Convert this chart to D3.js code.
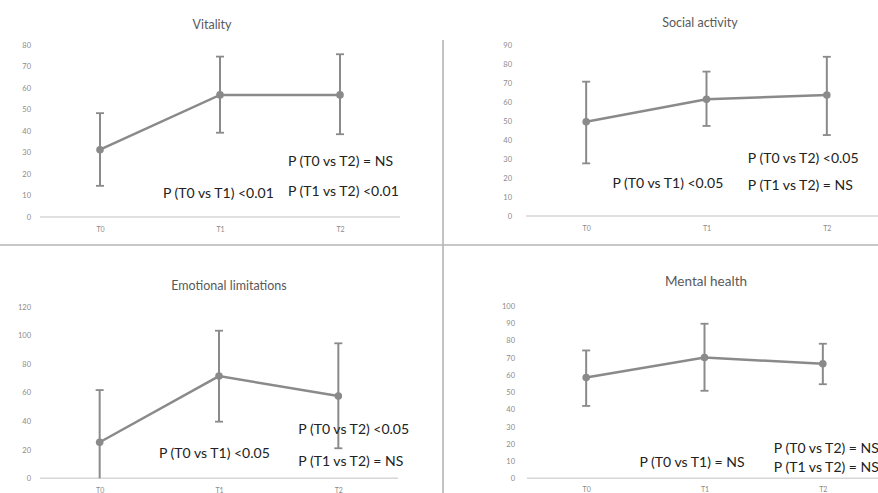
<!DOCTYPE html>
<html><head><meta charset="utf-8">
<script src="https://cdn.jsdelivr.net/npm/d3@7"></script>
<style>body{margin:0;background:#fff}svg{display:block}</style>
</head><body>
<script>
const timepoints = ["T0", "T1", "T2"];

const vitalityMean = [31.3, 56.8, 56.8];
const vitalityLow  = [14.5, 39.2, 38.5];
const vitalityHigh = [48.3, 74.6, 75.7];
const vitalityTicks = [0, 10, 20, 30, 40, 50, 60, 70, 80];

const socialMean = [49.6, 61.4, 63.7];
const socialLow  = [27.7, 47.4, 42.6];
const socialHigh = [70.7, 76.0, 83.8];
const socialTicks = [0, 10, 20, 30, 40, 50, 60, 70, 80, 90];

const emotionalMean = [25.2, 71.5, 57.5];
const emotionalLow  = [0, 39.6, 21.0];
const emotionalHigh = [61.7, 103.2, 94.4];
const emotionalTicks = [0, 20, 40, 60, 80, 100, 120];

const mentalMean = [58.5, 70.1, 66.5];
const mentalLow  = [42.0, 50.8, 54.6];
const mentalHigh = [74.2, 89.7, 78.1];
const mentalTicks = [0, 10, 20, 30, 40, 50, 60, 70, 80, 90, 100];

const vitalityNotes  = ["P (T0 vs T2) = NS", "P (T1 vs T2) <0.01", "P (T0 vs T1) <0.01"];
const socialNotes    = ["P (T0 vs T2) <0.05", "P (T1 vs T2) = NS", "P (T0 vs T1) <0.05"];
const emotionalNotes = ["P (T0 vs T2) <0.05", "P (T1 vs T2) = NS", "P (T0 vs T1) <0.05"];
const mentalNotes    = ["P (T0 vs T2) = NS", "P (T1 vs T2) = NS", "P (T0 vs T1) = NS"];

const W = 878, H = 493;
const svg = d3.select("body").append("svg").attr("width", W).attr("height", H);

const FONT = "Lato, 'Open Sans', sans-serif";
const LINE = "#8a8a8a";

const panels = [
  { title: "Vitality", titleX: 212, titleY: 24, titleSize: 12.5,
    mean: vitalityMean, low: vitalityLow, high: vitalityHigh, ticks: vitalityTicks,
    xr: [40, 400], yr: [217, 45], labelX: 31, xLabelY: 230, notes: vitalityNotes,
    notePos: [[2, -52, 26.5], [2, -52, 12.1], [1, -57, 11.6]] },
  { title: "Social activity", titleX: 700, titleY: 22, titleSize: 12.5,
    mean: socialMean, low: socialLow, high: socialHigh, ticks: socialTicks,
    xr: [526, 887], yr: [216, 45], labelX: 512, xLabelY: 229, notes: socialNotes,
    notePos: [[2, -79, 31], [2, -79, 16.8], [1, -94, 17.4]] },
  { title: "Emotional limitations", titleX: 229, titleY: 285, titleSize: 12.5,
    mean: emotionalMean, low: emotionalLow, high: emotionalHigh, ticks: emotionalTicks,
    xr: [40, 398], yr: [478.3, 306.7], labelX: 31, xLabelY: 491, notes: emotionalNotes,
    notePos: [[2, -40, 34.5], [2, -40, 12.1], [1, -60, 17.7]] },
  { title: "Mental health", titleX: 706, titleY: 281, titleSize: 13.5,
    mean: mentalMean, low: mentalLow, high: mentalHigh, ticks: mentalTicks,
    xr: [527, 882], yr: [478.3, 306], labelX: 515, xLabelY: 490, notes: mentalNotes,
    notePos: [[2, -49, 17.6], [2, -49, 6.6], [1, -65, 9.5]] }
];

svg.append("line").attr("x1", 0).attr("x2", W).attr("y1", 245).attr("y2", 245)
  .attr("stroke", "#b4b4b4").attr("stroke-width", 1.6);
svg.append("line").attr("x1", 443).attr("x2", 443).attr("y1", 40).attr("y2", H)
  .attr("stroke", "#b4b4b4").attr("stroke-width", 1.6);

panels.forEach(p => {
  const g = svg.append("g");
  const x = d3.scalePoint().domain(timepoints).range(p.xr).padding(0.5);
  const maxT = p.ticks[p.ticks.length - 1];
  const y = d3.scaleLinear().domain([0, maxT]).range(p.yr);

  g.append("text").attr("x", p.titleX).attr("y", p.titleY)
    .attr("text-anchor", "middle").attr("dominant-baseline", "central")
    .attr("font-family", FONT).attr("font-size", p.titleSize).attr("fill", "#595959")
    .text(p.title);

  const yAxis = d3.axisLeft(y).tickValues(p.ticks).tickSize(0).tickPadding(0);
  const ya = g.append("g").attr("transform", `translate(${p.labelX},0)`).call(yAxis);
  ya.select(".domain").remove();
  ya.selectAll("text").attr("font-family", FONT).attr("font-size", 7.5).attr("fill", "#8a8a8a");

  g.append("line").attr("x1", p.xr[0]).attr("x2", p.xr[1])
    .attr("y1", y(0)).attr("y2", y(0))
    .attr("stroke", "#d6d6d6").attr("stroke-width", 1.5);

  const xAxis = d3.axisBottom(x).tickSize(0).tickPadding(0);
  const xa = g.append("g").attr("transform", `translate(0,${p.xLabelY})`).call(xAxis);
  xa.select(".domain").remove();
  xa.selectAll("text").attr("font-family", FONT).attr("font-size", 7)
    .attr("fill", "#8a8a8a").attr("dy", "0.32em");

  const data = timepoints.map((t, i) => ({ t, m: p.mean[i], lo: p.low[i], hi: p.high[i] }));

  const eb = g.selectAll(".eb").data(data).enter().append("g");
  eb.append("line").attr("x1", d => x(d.t)).attr("x2", d => x(d.t))
    .attr("y1", d => y(d.lo)).attr("y2", d => y(d.hi))
    .attr("stroke", LINE).attr("stroke-width", 2);
  eb.append("line").attr("x1", d => x(d.t) - 4).attr("x2", d => x(d.t) + 4)
    .attr("y1", d => y(d.hi)).attr("y2", d => y(d.hi))
    .attr("stroke", LINE).attr("stroke-width", 1.8);
  eb.filter(d => d.lo > 0).append("line").attr("x1", d => x(d.t) - 4).attr("x2", d => x(d.t) + 4)
    .attr("y1", d => y(d.lo)).attr("y2", d => y(d.lo))
    .attr("stroke", LINE).attr("stroke-width", 1.8);

  g.append("path").datum(data)
    .attr("d", d3.line().x(d => x(d.t)).y(d => y(d.m)))
    .attr("fill", "none").attr("stroke", LINE).attr("stroke-width", 2.5);

  g.selectAll(".pt").data(data).enter().append("circle")
    .attr("cx", d => x(d.t)).attr("cy", d => y(d.m)).attr("r", 3.8)
    .attr("fill", LINE);

  p.notes.forEach((txt, i) => {
    const [ci, dx, yv] = p.notePos[i];
    g.append("text").attr("x", x(timepoints[ci]) + dx).attr("y", y(yv))
      .attr("dominant-baseline", "central")
      .attr("font-family", FONT).attr("font-size", 14).attr("fill", "#222")
      .text(txt);
  });
});
</script>
</body></html>
